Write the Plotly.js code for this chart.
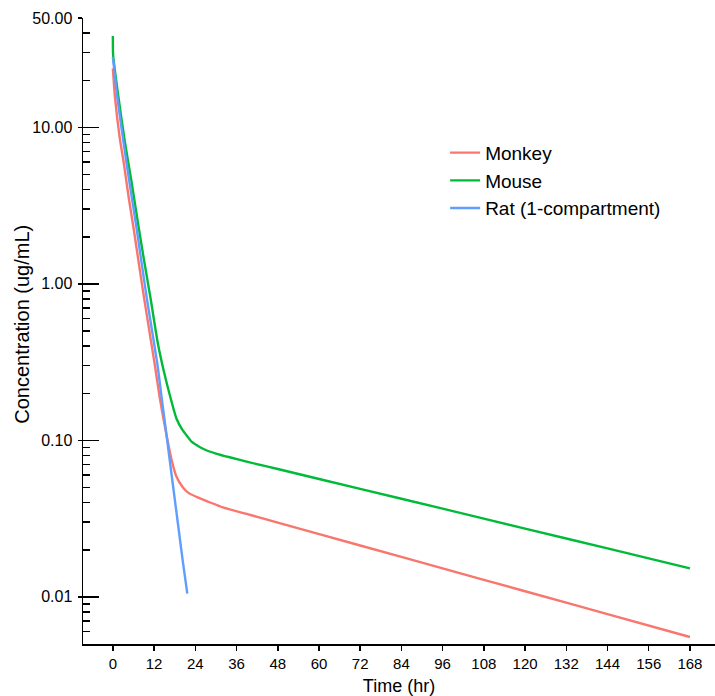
<!DOCTYPE html>
<html>
<head>
<meta charset="utf-8">
<script src="https://cdn.plot.ly/plotly-3.0.1.min.js"></script>
<style>html,body{margin:0;padding:0;background:#fff;}#chart{width:715px;height:696px;}</style>
</head>
<body>
<div id="chart"></div>
<script>
// ---- data ----
const seriesNames = ["Monkey", "Mouse", "Rat (1-compartment)"];

const monkeyTime = [0, 0.6, 1.95, 3.2, 4.66, 6.12, 7.5, 9.03, 10.5, 12.14, 13.6, 15.35, 17.0, 18.46, 20.4, 22.0, 24.3, 28, 32, 39.8, 48, 72, 96, 120, 144, 168];
const monkeyConc = [23.8, 15.7, 8.69, 5.87, 3.5, 2.2, 1.38, 0.826, 0.52, 0.31, 0.19, 0.116, 0.0766, 0.059, 0.050, 0.0462, 0.0436, 0.0404, 0.0373, 0.0335, 0.0298, 0.0213, 0.0152, 0.01087, 0.00776, 0.00554];

const mouseTime = [0, 0.08, 1.6, 3.41, 5.36, 7.5, 9.23, 11.0, 13.1, 14.7, 16.7, 18.5, 20.2, 21.7, 23.0, 25.25, 27.2, 30, 34, 39.8, 48, 72, 96, 120, 144, 168];
const mouseConc = [38.3, 28.9, 15.7, 8.28, 4.59, 2.3, 1.35, 0.80, 0.416, 0.285, 0.19, 0.138, 0.117, 0.106, 0.0977, 0.0908, 0.0865, 0.0824, 0.078, 0.0724, 0.0656, 0.049, 0.0366, 0.0273, 0.0204, 0.0152];

const ratTime = [0, 1.27, 3.99, 6.99, 9.81, 12.93, 14.27, 15.26, 16.2, 17.5, 18.46, 19.4, 20.4, 21.67];
const ratConc = [28.2, 15.7, 5.87, 2.20, 0.826, 0.310, 0.182, 0.124, 0.0857, 0.0515, 0.0354, 0.0245, 0.0166, 0.0105];

const xTickVals = [0, 12, 24, 36, 48, 60, 72, 84, 96, 108, 120, 132, 144, 156, 168];
const yTickVals = [0.01, 0.1, 1, 10, 50];
const yTickText = ["0.01", "0.10", "1.00", "10.00", "50.00"];
const yMinorVals = [0.006, 0.007, 0.008, 0.009,
  0.02, 0.03, 0.04, 0.05, 0.06, 0.07, 0.08, 0.09,
  0.2, 0.3, 0.4, 0.5, 0.6, 0.7, 0.8, 0.9,
  2, 3, 4, 5, 6, 7, 8, 9, 20, 30, 40];
const yMin = 0.005, yMax = 50;
const xMin = -8.7, xMax = 175.3;

// ---- styles ----
const colors = ["#F8766D", "#00BA38", "#619CFF"];
const FONT = "Liberation Sans, Arial, sans-serif";

const traces = [
  {x: monkeyTime, y: monkeyConc, name: seriesNames[0]},
  {x: mouseTime, y: mouseConc, name: seriesNames[1]},
  {x: ratTime, y: ratConc, name: seriesNames[2]}
].map((t, i) => Object.assign(t, {
  type: "scatter", mode: "lines",
  line: {color: colors[i], width: 2.4, shape: "spline", smoothing: 0.6},
  hoverinfo: "skip"
}));

// invisible helper trace on overlay axis (outer part of major y ticks)
traces.push({x: [null], y: [null], yaxis: "y2", type: "scatter", mode: "lines", showlegend: false, hoverinfo: "skip"});

const layout = {
  width: 715, height: 696,
  margin: {l: 83, r: 0, t: 18, b: 52},
  paper_bgcolor: "#fff", plot_bgcolor: "#fff",
  font: {family: FONT, color: "#000"},
  showlegend: true,
  legend: {
    x: 0.573, y: 0.815, xanchor: "left", yanchor: "top",
    font: {family: FONT, size: 19, color: "#000"},
    bgcolor: "rgba(0,0,0,0)", borderwidth: 0
  },
  xaxis: {
    range: [xMin, xMax], tickmode: "array", tickvals: xTickVals,
    ticks: "outside", ticklen: 5, tickwidth: 1.5, tickcolor: "#000",
    showline: true, linecolor: "#000", linewidth: 1.5,
    showgrid: false, zeroline: false,
    tickfont: {family: FONT, size: 15, color: "#000"},
    title: {text: "Time (hr)", font: {family: FONT, size: 18, color: "#000"}, standoff: 9}
  },
  yaxis: {
    type: "log", range: [Math.log10(yMin), Math.log10(yMax)],
    tickmode: "array", tickvals: yTickVals, ticktext: yTickText,
    ticks: "inside", ticklen: 16, tickwidth: 1.5, tickcolor: "#000",
    ticklabelposition: "outside", ticklabelstandoff: 6,
    minor: {tickmode: "array", tickvals: yMinorVals, ticks: "inside", ticklen: 7, tickwidth: 1.5, tickcolor: "#000", showgrid: false},
    showline: true, linecolor: "#000", linewidth: 1.5,
    showgrid: false, zeroline: false,
    tickfont: {family: FONT, size: 16, color: "#000"}
  },
  yaxis2: {
    type: "log", range: [Math.log10(yMin), Math.log10(yMax)],
    overlaying: "y", side: "left", anchor: "x",
    tickmode: "array", tickvals: yTickVals,
    ticks: "outside", ticklen: 4, tickwidth: 1.5, tickcolor: "#000",
    showticklabels: false, showline: false, showgrid: false, zeroline: false
  },
  annotations: [{
    text: "Concentration (ug/mL)", textangle: -90,
    xref: "paper", yref: "paper", x: -0.0965, y: 0.51,
    xanchor: "center", yanchor: "middle", showarrow: false,
    font: {family: FONT, size: 20, color: "#000"}
  }]
};

Plotly.newPlot("chart", traces, layout, {displayModeBar: false, staticPlot: true});
</script>
</body>
</html>
